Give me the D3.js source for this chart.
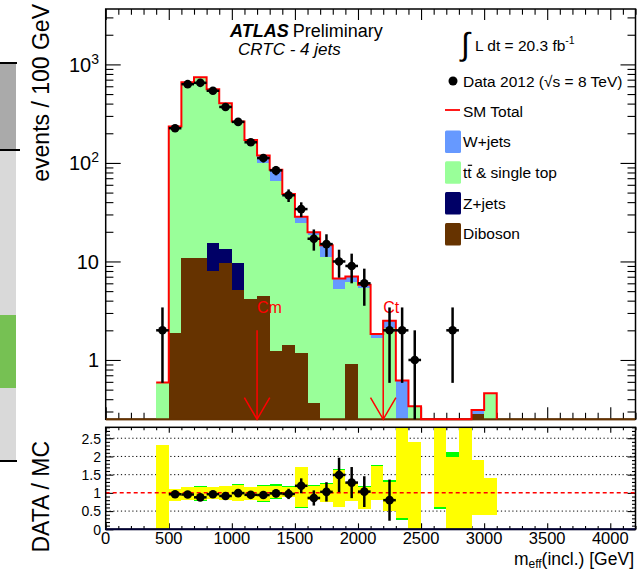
<!DOCTYPE html>
<html>
<head>
<meta charset="utf-8">
<script src="https://cdn.jsdelivr.net/npm/d3@7"></script>
<style>
  body { margin: 0; background: #fff; }
  svg { display: block; font-family: "Liberation Sans", Arial, Helvetica, sans-serif; }
</style>
</head>
<body>
<svg id="chart" width="644" height="571"></svg>
<script>
// ---- data: m_eff(incl.) in 100 GeV bins, lower edges ----
const binLow = [400, 500, 600, 700, 800, 900, 1000, 1100, 1200, 1300, 1400, 1500, 1600, 1700,
                1800, 1900, 2000, 2100, 2200, 2300, 2400, 2500, 2600, 2700, 2800, 2900, 3000];
const binWidth = 100;

const dataCounts = [2, 225, 630, 650, 540, 370, 261, 162, 112, 84, 47, 34, 17, 15,
                    10, 9, 6, 0, 2, 2, 1, 0, 0, 2, 0, 0, 0];

// MC backgrounds (events / 100 GeV)
const diboson = [0, 1.87, 10.8, 10.8, 8.0, 9.6, 5.1, 4.2, 4.5, 1.23, 1.42, 1.17, 0.37, 0,
                 0, 0.92, 0, 0, 0, 0, 0, 0, 0, 0, 0, 0.28, 0];
const zJets   = [0, 0, 0, 0, 7.3, 3.7, 4.5, 0, 0, 0, 0, 0, 0, 0,
                 0, 0, 0, 0, 0, 0, 0, 0, 0, 0, 0, 0, 0];
const ttbar   = [0.59, 229, 641, 720, 537, 385, 247, 163, 94.5, 64, 45, 23.3, 18.2, 11.2,
                 5.2, 5.3, 5.35, 1.66, 2.1, 0.12, 0.34, 0, 0.1, 0.1, 0.15, 0, 0.46];
const wJets   = [0, 3, 8, 10, 8, 6, 6, 4, 20, 20, 2, 4, 1.2, 3.4,
                 1.5, 0.8, 0.45, 0.18, 0.4, 0.5, 0, 0, 0, 0, 0, 0.03, 0];

// relative MC uncertainty bands for the ratio panel (null = no MC)
const systLo = [0, 0.79, 0.81, 0.80, 0.83, 0.81, 0.78, 0.81, 0.78, 0.85, 0.88, 0.62, 0.80, 0.75,
                0.61, 0.79, 0.56, 0.80, 0.49, 0.30, 0, null, 0.60, 0, 0, 0.39, 0.39];
const systHi = [2.32, 1.12, 1.16, 1.17, 1.17, 1.20, 1.22, 1.16, 1.18, 1.20, 1.17, 1.72, 1.18, 1.25,
                1.62, 1.30, 1.15, 1.74, 1.30, 3, 2.41, null, 3, 1.99, 3, 1.90, 1.40];
const totLo  = [0, 0.79, 0.81, 0.78, 0.83, 0.81, 0.78, 0.81, 0.74, 0.83, 0.88, 0.58, 0.80, 0.75,
                0.61, 0.79, 0.56, 0.80, 0.49, 0.26, 0, null, 0.55, 0, 0, 0.39, 0.39];
const totHi  = [2.32, 1.12, 1.16, 1.20, 1.17, 1.20, 1.25, 1.16, 1.21, 1.23, 1.19, 1.72, 1.21, 1.28,
                1.66, 1.30, 1.18, 1.77, 1.36, 3, 2.41, null, 3, 2.13, 3, 1.90, 1.40];

// axis ticks and labels
const xTicks = [0, 500, 1000, 1500, 2000, 2500, 3000, 3500, 4000];
const xTickLabels = ["0", "500", "1000", "1500", "2000", "2500", "3000", "3500", "4000"];
const yMainTicks = [1, 10, 100, 1000];
const yMainLabelBase = ["1", "10", "10", "10"];
const yMainLabelExp = ["", "", "2", "3"];
const yRatioTicks = [0, 0.5, 1, 1.5, 2, 2.5];
const yRatioLabels = ["0", "0.5", "1", "1.5", "2", "2.5"];

// signal-region cuts
const cutNames = ["Cm", "Ct"];
const cutValues = [1200, 2200];
const cutArrowTop = [2.0, 2.55];
const cutLabelAt = 3.0;

// legend
const legendItems = [
  { label: "W+jets", color: "#6699ff" },
  { label: "tt & single top", color: "#99ff99", bar: true },
  { label: "Z+jets", color: "#000066" },
  { label: "Diboson", color: "#663300" }
];

// ---- layout ----
const X0 = 105.7, X1 = 635.5, MT = 9, MB = 419.3, RT = 427.3, RB = 529.3;
const svg = d3.select("#chart");

const x = d3.scaleLinear().domain([0, 4200]).range([X0, X1]);
const y = d3.scaleLog().domain([0.25, 3650]).range([MB, MT]).clamp(true);
const yr = d3.scaleLinear().domain([0, 2.8]).range([RB, RT]);
const yv = v => (v > 0 ? y(v) : MB);

// ---- side strip at the left edge ----
const strip = svg.append("g");
[[63, 150, "#aaaaaa"], [150, 315, "#d9d9d9"], [315, 388, "#76c153"], [388, 461, "#d9d9d9"]]
  .forEach(([a, b, c]) => strip.append("rect").attr("x", 0).attr("y", a).attr("width", 16).attr("height", b - a).attr("fill", c));
[[63, 17], [150, 20], [461, 17]].forEach(([yy, w]) =>
  strip.append("line").attr("x1", 0).attr("x2", w).attr("y1", yy).attr("y2", yy).attr("stroke", "#000").attr("stroke-width", 2));

// ---- tick helper ----
function tickRow(axisFn, scale, values, len, tx, ty) {
  svg.append("g")
    .attr("transform", `translate(${tx},${ty})`)
    .call(axisFn(scale).tickValues(values).tickSize(len).tickFormat(""))
    .call(g => g.select(".domain").remove())
    .call(g => g.selectAll("line").attr("stroke", "#000").attr("stroke-width", 1.1));
}

const xMinor = d3.range(0, 4201, 100).filter(v => v % 500 !== 0);
const yMinor = [];
[0.1, 1, 10, 100, 1000].forEach(d => { for (let k = 2; k <= 9; k++) { const v = d * k; if (v >= 0.25 && v <= 3650) yMinor.push(v); } });
const yrMinor = d3.range(0, 29).map(k => k / 10).filter(v => Math.abs(v * 2 - Math.round(v * 2)) > 1e-6);

// main panel ticks
tickRow(d3.axisTop, x, xMinor, 6.5, 0, MB);
tickRow(d3.axisTop, x, xTicks, 12, 0, MB);
tickRow(d3.axisBottom, x, xMinor, 5.7, 0, MT);
tickRow(d3.axisBottom, x, xTicks, 11, 0, MT);
tickRow(d3.axisRight, y, yMinor, 7.7, X0, 0);
tickRow(d3.axisRight, y, yMainTicks, 15, X0, 0);
tickRow(d3.axisLeft, y, yMinor, 8, X1, 0);
tickRow(d3.axisLeft, y, yMainTicks, 15, X1, 0);

// ratio panel ticks
tickRow(d3.axisTop, x, xMinor, 3.3, 0, RB);
tickRow(d3.axisTop, x, xTicks, 6, 0, RB);
tickRow(d3.axisBottom, x, xMinor, 3, 0, RT);
tickRow(d3.axisBottom, x, xTicks, 5.5, 0, RT);
tickRow(d3.axisRight, yr, yrMinor, 4.3, X0, 0);
tickRow(d3.axisRight, yr, yRatioTicks, 7.7, X0, 0);
tickRow(d3.axisLeft, yr, yrMinor, 3.5, X1, 0);
tickRow(d3.axisLeft, yr, yRatioTicks, 8, X1, 0);

// ---- clip paths ----
const defs = svg.append("defs");
defs.append("clipPath").attr("id", "clipMain").append("rect")
  .attr("x", X0).attr("y", MT).attr("width", X1 - X0).attr("height", MB - MT + 1.5);
defs.append("clipPath").attr("id", "clipRatio").append("rect")
  .attr("x", X0).attr("y", RT).attr("width", X1 - X0).attr("height", RB - RT);

// ---- frames ----
svg.append("rect").attr("x", X0).attr("y", MT).attr("width", X1 - X0).attr("height", MB - MT)
  .attr("fill", "none").attr("stroke", "#000").attr("stroke-width", 1.5);

// ---- stacked backgrounds ----
const rows = binLow.map((lo, i) => ({ lo, diboson: diboson[i], zjets: zJets[i], ttbar: ttbar[i], wjets: wJets[i] }));
const keys = ["diboson", "zjets", "ttbar", "wjets"];
const colors = { diboson: "#663300", zjets: "#000066", ttbar: "#99ff99", wjets: "#6699ff" };
const stacked = d3.stack().keys(keys)(rows);
const total = rows.map((r, i) => stacked[stacked.length - 1][i][1]);

const mainG = svg.append("g").attr("clip-path", "url(#clipMain)");
stacked.forEach(layer => {
  mainG.append("g").selectAll("rect")
    .data(layer.filter(d => d[1] > d[0] && d[1] > 0.25))
    .join("rect")
    .attr("x", d => x(d.data.lo))
    .attr("width", d => x(d.data.lo + binWidth) - x(d.data.lo))
    .attr("y", d => yv(d[1]))
    .attr("height", d => yv(d[0]) - yv(d[1]))
    .attr("fill", colors[layer.key])
    .attr("shape-rendering", "crispEdges");
});

// diboson baseline along the bottom of the main panel
mainG.append("line").attr("x1", X0).attr("x2", X1).attr("y1", MB).attr("y2", MB)
  .attr("stroke", "#663300").attr("stroke-width", 2.2);

// SM total as a step line
const tp = d3.path();
tp.moveTo(x(binLow[0]), yv(total[0]));
binLow.forEach((lo, i) => {
  tp.lineTo(x(lo + binWidth), yv(total[i]));
  if (i < binLow.length - 1) tp.lineTo(x(lo + binWidth), yv(total[i + 1]));
});
tp.lineTo(x(binLow[binLow.length - 1] + binWidth), MB);
mainG.append("path").attr("d", tp.toString()).attr("fill", "none")
  .attr("stroke", "#ff0000").attr("stroke-width", 2);

// cut arrows
cutValues.forEach((c, i) => {
  const ax = x(c);
  const g = svg.append("g").attr("stroke", "#ff0000").attr("stroke-width", 1.5).attr("fill", "none");
  g.append("line").attr("x1", ax).attr("x2", ax).attr("y1", y(cutArrowTop[i])).attr("y2", MB);
  g.append("path").attr("d", `M${ax - 12.7},${MB - 21.6}L${ax},${MB}L${ax + 12.7},${MB - 21.6}`);
  svg.append("text").attr("x", ax).attr("y", y(cutLabelAt)).attr("fill", "#ff0000")
    .attr("font-size", 16).text(cutNames[i]);
});

// data points
function drawPoints(g, pts) {
  const pg = g.append("g");
  pts.forEach(p => {
    pg.append("line").attr("x1", p.cx).attr("x2", p.cx).attr("y1", p.yLo).attr("y2", p.yHi)
      .attr("stroke", "#000").attr("stroke-width", 2.5);
    pg.append("line").attr("x1", p.xl).attr("x2", p.xr).attr("y1", p.cy).attr("y2", p.cy)
      .attr("stroke", "#000").attr("stroke-width", 2.5);
    pg.append("circle").attr("cx", p.cx).attr("cy", p.cy).attr("r", 4.3).attr("fill", "#000");
  });
}
const mainPts = binLow.map((lo, i) => ({ lo, n: dataCounts[i] })).filter(d => d.n > 0).map(d => {
  const e = Math.sqrt(d.n);
  return {
    cx: x(d.lo + binWidth / 2), cy: y(d.n), xl: x(d.lo), xr: x(d.lo + binWidth),
    yLo: yv(d.n - e), yHi: y(d.n + e)
  };
});
drawPoints(svg, mainPts);

// ---- ratio panel ----
// grid lines
[0.5, 1.5, 2, 2.5].forEach(v => {
  svg.append("line").attr("x1", X0).attr("x2", X1).attr("y1", yr(v)).attr("y2", yr(v))
    .attr("stroke", "#000").attr("stroke-width", 1).attr("stroke-dasharray", "1.2,2.6");
});
const ratioG = svg.append("g").attr("clip-path", "url(#clipRatio)");
binLow.forEach((lo, i) => {
  if (totLo[i] === null) return;
  ratioG.append("rect").attr("x", x(lo)).attr("width", x(lo + binWidth) - x(lo))
    .attr("y", yr(totHi[i])).attr("height", yr(totLo[i]) - yr(totHi[i]))
    .attr("fill", "#00ff00").attr("shape-rendering", "crispEdges");
});
binLow.forEach((lo, i) => {
  if (systLo[i] === null) return;
  ratioG.append("rect").attr("x", x(lo)).attr("width", x(lo + binWidth) - x(lo))
    .attr("y", yr(systHi[i])).attr("height", yr(systLo[i]) - yr(systHi[i]))
    .attr("fill", "#ffff00").attr("shape-rendering", "crispEdges");
});
svg.append("line").attr("x1", X0).attr("x2", X1).attr("y1", yr(1)).attr("y2", yr(1))
  .attr("stroke", "#ff0000").attr("stroke-width", 1.5).attr("stroke-dasharray", "4,3");

const ratioPts = binLow.map((lo, i) => ({ lo, n: dataCounts[i], t: total[i] }))
  .filter(d => d.n > 0 && d.t > 0 && d.n / d.t <= 2.8)
  .map(d => {
    const r = d.n / d.t, e = Math.sqrt(d.n) / d.t;
    return {
      cx: x(d.lo + binWidth / 2), cy: yr(r), xl: x(d.lo), xr: x(d.lo + binWidth),
      yLo: yr(Math.max(0, r - e)), yHi: yr(Math.min(2.8, r + e))
    };
  });
drawPoints(svg, ratioPts);

svg.append("rect").attr("x", X0).attr("y", RT).attr("width", X1 - X0).attr("height", RB - RT)
  .attr("fill", "none").attr("stroke", "#000").attr("stroke-width", 1.5);
svg.append("line").attr("x1", X0).attr("x2", X1).attr("y1", RB).attr("y2", RB)
  .attr("stroke", "#000033").attr("stroke-width", 2);

// ---- tick labels ----
xTicks.forEach((v, i) => {
  svg.append("text").attr("x", x(v)).attr("y", 544).attr("text-anchor", "middle")
    .attr("font-size", 16.5).text(xTickLabels[i]);
});
yMainTicks.forEach((v, i) => {
  const t = svg.append("text").attr("x", 99).attr("y", y(v)).attr("dy", "0.36em")
    .attr("text-anchor", "end").attr("font-size", 20);
  t.append("tspan").text(yMainLabelBase[i]);
  if (yMainLabelExp[i]) t.append("tspan").attr("dy", "-0.55em").attr("font-size", 14).text(yMainLabelExp[i]);
});
yRatioTicks.forEach((v, i) => {
  svg.append("text").attr("x", 101).attr("y", yr(v)).attr("dy", "0.38em")
    .attr("text-anchor", "end").attr("font-size", 14).text(yRatioLabels[i]);
});

// ---- axis titles ----
svg.append("text").attr("transform", "translate(49,4) rotate(-90)").attr("text-anchor", "end")
  .attr("font-size", 23).text("events / 100 GeV");
svg.append("text").attr("transform", "translate(49,441) rotate(-90)").attr("text-anchor", "end")
  .attr("font-size", 23).text("DATA / MC");
const xt = svg.append("text").attr("x", 634).attr("y", 565).attr("text-anchor", "end").attr("font-size", 17.5);
xt.append("tspan").text("m");
xt.append("tspan").attr("font-size", 12).attr("dy", 3).text("eff");
xt.append("tspan").attr("dy", -3).text("(incl.) [GeV]");

// ---- labels ----
const atl = svg.append("text").attr("x", 230).attr("y", 37).attr("font-size", 18);
atl.append("tspan").attr("font-weight", "bold").attr("font-style", "italic").text("ATLAS");
atl.append("tspan").attr("dx", 4).text("Preliminary");
svg.append("text").attr("x", 238).attr("y", 55).attr("font-size", 17).attr("font-style", "italic")
  .text("CRTC - 4 jets");

// ---- legend ----
svg.append("text").attr("x", 461).attr("y", 55).attr("font-size", 32).text("\u222B");
const lumi = svg.append("text").attr("x", 475).attr("y", 51).attr("font-size", 15.5);
lumi.append("tspan").text("L dt = 20.3 fb");
lumi.append("tspan").attr("dy", -7).attr("font-size", 10.5).text("-1");

svg.append("circle").attr("cx", 453).attr("cy", 81).attr("r", 4.5).attr("fill", "#000");
svg.append("text").attr("x", 463).attr("y", 86.5).attr("font-size", 15.5).text("Data 2012 (\u221As = 8 TeV)");

svg.append("line").attr("x1", 445).attr("x2", 460).attr("y1", 110).attr("y2", 110)
  .attr("stroke", "#ff0000").attr("stroke-width", 1.8);
svg.append("text").attr("x", 463).attr("y", 117).attr("font-size", 15.5).text("SM Total");

legendItems.forEach((it, i) => {
  const top = 130.5 + i * 30.8;
  svg.append("rect").attr("x", 445).attr("y", top).attr("width", 16).attr("height", 22.5)
    .attr("rx", 1.5).attr("fill", it.color);
  const t = svg.append("text").attr("x", 463).attr("y", top + 16.5).attr("font-size", 15.5).text(it.label);
  if (it.bar) {
    const node = t.node();
    const sx = node.getStartPositionOfChar(1).x;
    const w = node.getSubStringLength(1, 1);
    svg.append("line").attr("x1", sx + 0.5).attr("x2", sx + w + 0.5)
      .attr("y1", top + 4).attr("y2", top + 4).attr("stroke", "#000").attr("stroke-width", 1.2);
  }
});
</script>
</body>
</html>
